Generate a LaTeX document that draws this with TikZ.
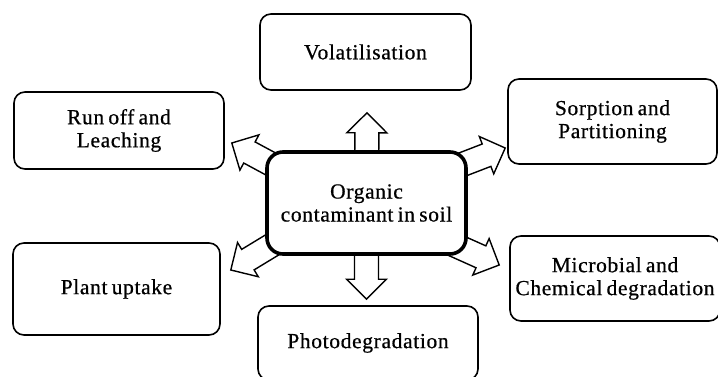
\documentclass[tikz,border=0pt]{standalone}
\usepackage{fontspec}
\setmainfont{Liberation Serif}[LetterSpace=3,WordSpace=0.7,FakeBold=0.6]
\usetikzlibrary{calc,backgrounds}
\tikzset{
  proc/.style={draw, rounded corners=11pt, line width=1.6pt, fill=white, align=center,
    inner sep=0pt, font=\fontsize{21.5}{23}\selectfont},
  hub/.style={proc, line width=3.6pt, rounded corners=16pt},
  blockarr/.style={draw, line width=1.4pt, fill=white, line join=miter},
}
\newcommand\blockarrow[2]{%
  \coordinate (bah) at ($(#2)!20pt!(#1)$);
  \draw[blockarr] ($(#1)!12pt!90:(#2)$) -- ($(bah)!12pt!-90:(#1)$) -- ($(bah)!20pt!-90:(#1)$)
    -- (#2) -- ($(bah)!20pt!90:(#1)$) -- ($(bah)!12pt!90:(#1)$) -- ($(#1)!12pt!-90:(#2)$) -- cycle;}
\begin{document}
\begin{tikzpicture}[x=1pt,y=-1pt]
\useasboundingbox (0,0) rectangle (718,377);
\clip (0,0) rectangle (718,377);
\node[proc, minimum width=211pt, minimum height=76pt] (vol) at (365.5,52) {Volatilisation};
\node[proc, minimum width=210pt, minimum height=77pt] (run) at (119,130.5) {Run off and\\Leaching};
\node[proc, minimum width=209pt, minimum height=85pt] (sorp) at (612.5,121.5) {Sorption and\\Partitioning};
\node[hub, minimum width=199pt, minimum height=102pt] (cen) at (366.5,203) {Organic\\contaminant in soil};
\node[proc, minimum width=207pt, minimum height=92pt] (plant) at (116.5,289) {Plant uptake};
\node[proc, minimum width=220pt, minimum height=74pt] (photo) at (368,343) {Photodegradation};
\node[proc, minimum width=210pt, minimum height=85pt] (micro) at (615,278.5) {Microbial and\\Chemical degradation};
\coordinate (tu) at (cen.center);
\coordinate (pu) at ($(vol.south)+(1.5,22)$);
\coordinate (pd) at ($(photo.north)+(-1.5,-6)$);
\coordinate (tul) at ($(cen.center)+(-66,-23)$);
\coordinate (pul) at ($(run.east)+(7,12.5)$);
\coordinate (tur) at ($(cen.center)+(63.5,-26)$);
\coordinate (pur) at ($(sorp.west)+(-2,26.5)$);
\coordinate (tll) at ($(cen.center)+(-66.5,25)$);
\coordinate (pll) at ($(plant.east)+(10,-19)$);
\coordinate (tlr) at ($(cen.center)+(63.5,31)$);
\coordinate (plr) at ($(micro.west)+(-10,-13.5)$);
\begin{pgfonlayer}{background}
\blockarrow{tu}{pu}
\blockarrow{tu}{pd}
\blockarrow{tul}{pul}
\blockarrow{tur}{pur}
\blockarrow{tll}{pll}
\blockarrow{tlr}{plr}
\end{pgfonlayer}
\end{tikzpicture}
\end{document}
